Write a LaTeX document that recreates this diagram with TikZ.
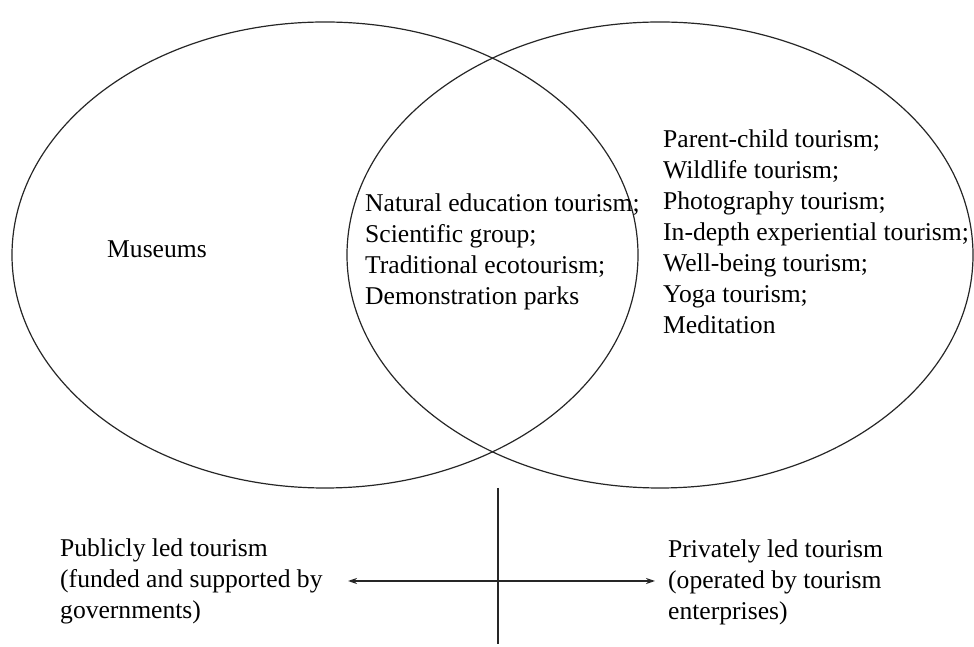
\documentclass[tikz,border=0pt]{standalone}
\usepackage{fontspec}
\setmainfont{Liberation Serif}
\usepackage{tikz}
\usetikzlibrary{arrows.meta}

\begin{document}
\begin{tikzpicture}[x=1pt, y=1pt,
        label text/.style={font={\fontsize{25.6}{31}\selectfont}, black, align=left, anchor=base west, inner sep=0pt},
        venn/.style={line width=1.2pt, color=black!85},
        axis line/.style={line width=1.4pt, color=black!85}]
        \useasboundingbox (0, 0) rectangle (974, 647);
        % the two circles
        \draw[venn] (325, 392) ellipse (313 and 233);
        \draw[venn] (660, 392) ellipse (313 and 233);
        % texts in the circles (anchored at the last line)
        \node[label text] (museums) at (107, 389) {Museums};
        \node[label text] (shared) at (365, 342) {Natural education tourism;\\Scientific group;\\Traditional ecotourism;\\Demonstration parks};
        \node[label text] (private) at (663, 313) {Parent-child tourism;\\Wildlife tourism;\\Photography tourism;\\In-depth experiential tourism;\\Well-being tourism;\\Yoga tourism;\\Meditation};
        % the axis
        \node[label text] (publed) at (60, 28) {Publicly led tourism\\(funded and supported by\\governments)};
        \node[label text] (privled) at (668, 27) {Privately led tourism\\(operated by tourism\\enterprises)};
        \coordinate (axis west) at (348, 66);
        \coordinate (axis east) at (655, 66);
        \coordinate (axis top) at (498, 159);
        \coordinate (axis bottom) at (498, 3);
        \draw[axis line, {Stealth[length=9pt, width=6pt]}-{Stealth[length=9pt, width=6pt]}] (axis west) -- (axis east);
        \draw[axis line] (axis top) -- (axis bottom);
    \end{tikzpicture}
\end{document}
